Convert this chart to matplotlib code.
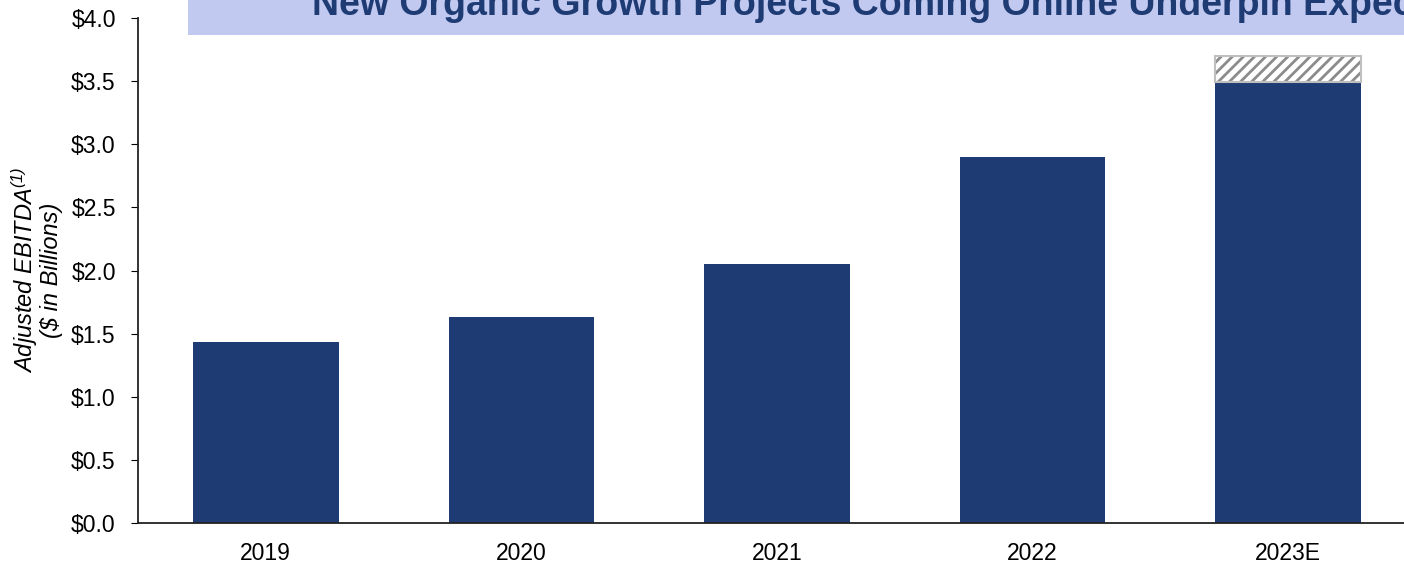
import matplotlib
matplotlib.use('Agg')
import matplotlib.pyplot as plt
from matplotlib.patches import Rectangle

plt.rcParams['font.family'] = ['Liberation Sans', 'DejaVu Sans']
plt.rcParams['mathtext.fontset'] = 'custom'
plt.rcParams['mathtext.rm'] = 'Liberation Sans:italic'
plt.rcParams['mathtext.it'] = 'Liberation Sans:italic'
plt.rcParams['hatch.linewidth'] = 2
plt.rcParams['hatch.color'] = '#8C8C8C'

# data
years = ['2019', '2020', '2021', '2022', '2023E']
ebitda = [1.43, 1.63, 2.05, 2.90, 3.49]
upside = [0, 0, 0, 0, 0.21]  # hatched range on top of 2023E
yticks = [0.0, 0.5, 1.0, 1.5, 2.0, 2.5, 3.0, 3.5, 4.0]

navy = '#1E3B73'

fig = plt.figure(figsize=(14.04, 5.63), dpi=100)
ax = fig.add_axes([0.0983, 0.0710, 1.0085 - 0.0983, 0.968 - 0.0710])

x = list(range(len(years)))
ax.bar(x, ebitda, width=0.57, color=navy)

# hatched upside only where there is one
hx = [i for i in x if upside[i] > 0]
hb = [ebitda[i] for i in hx]
hh = [upside[i] for i in hx]
ax.bar(hx, hh, width=0.57, bottom=hb, color='white', hatch='///',
       edgecolor='#8C8C8C', linewidth=0)
ax.bar(hx, hh, width=0.57, bottom=hb, fill=False,
       edgecolor='#BFBFBF', linewidth=1.5)

ax.set_xlim(-0.5, len(years) - 0.5)
ax.set_ylim(0, 4.0)
ax.set_yticks(yticks)
ax.set_yticklabels(['${:.1f}'.format(v) for v in yticks])
ax.set_xticks(x)
ax.set_xticklabels(years)
ax.tick_params(axis='x', length=0, pad=14, labelsize=16.5)
ax.tick_params(axis='y', length=5, direction='out', pad=11, labelsize=16.5)
for s in ['top', 'right']:
    ax.spines[s].set_visible(False)
for s in ['left', 'bottom']:
    ax.spines[s].set_color('#222222')
    ax.spines[s].set_linewidth(1.3)

fig.text(36 / 1404, (563 - 270) / 563, 'Adjusted EBITDA$^{(1)}$\n($ in Billions)',
         rotation=90, fontstyle='italic', fontsize=17, linespacing=1.0,
         ha='center', va='center', multialignment='center')

# title banner (cropped at the top/right in the reference)
fig.patches.append(Rectangle((188 / 1404, 0.9378), 1.0, 0.1, transform=fig.transFigure,
                             facecolor='#C1C9F1', edgecolor='none', zorder=0))
fig.text(312 / 1404, (563 - 15) / 563,
         'New Organic Growth Projects Coming Online Underpin Expected Growth',
         fontsize=27, fontweight='bold', color=navy, ha='left', va='baseline')

fig.savefig('out.png', dpi=100)
